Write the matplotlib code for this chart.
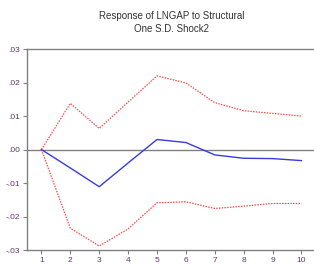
import numpy as np
import matplotlib.pyplot as plt

plt.rcParams['font.family'] = ['Liberation Sans', 'DejaVu Sans']

periods = [1, 2, 3, 4, 5, 6, 7, 8, 9, 10]
response = [0.0, -0.0055, -0.0111, -0.0040, 0.0030, 0.0021, -0.0016, -0.0026, -0.0027, -0.0033]
upper = [0.0, 0.0138, 0.0063, 0.0142, 0.0220, 0.0199, 0.0140, 0.0116, 0.0108, 0.0100]
lower = [0.0, -0.0235, -0.0288, -0.0237, -0.0159, -0.0156, -0.0176, -0.0169, -0.0161, -0.0161]
yticks = [0.03, 0.02, 0.01, 0.0, -0.01, -0.02, -0.03]
ylabels = [".03", ".02", ".01", ".00", "-.01", "-.02", "-.03"]

fig = plt.figure(figsize=(3.14, 2.64), dpi=100)
ax = fig.add_axes([0.086, 0.053, 0.92, 0.761])

ax.axhline(0, color="#808080", lw=1.0)
ax.plot(periods, upper, color="#ff4a4a", lw=0.9, ls=(0, (1.2, 1.0)))
ax.plot(periods, lower, color="#ff4a4a", lw=0.9, ls=(0, (1.2, 1.0)))
ax.plot(periods, response, color="#3a3ae0", lw=1.0)

ax.set_xlim(0.5, 10.5)
ax.set_ylim(-0.03, 0.03)
ax.set_xticks(periods)
ax.set_xticklabels([str(p) for p in periods])
ax.set_yticks(yticks)
ax.set_yticklabels(ylabels)

for s in ["left", "top", "bottom"]:
    ax.spines[s].set_color("#808080")
    ax.spines[s].set_linewidth(1.0)
ax.spines["right"].set_visible(False)
ax.tick_params(axis="both", labelsize=6, colors="#808080", length=3, width=0.8, pad=2,
               labelcolor="#5a3a6a")

ax.set_title("Response of LNGAP to Structural\nOne S.D. Shock2", fontsize=7,
             color="#333333", pad=12, linespacing=1.45)

plt.savefig("out.png", dpi=100)
